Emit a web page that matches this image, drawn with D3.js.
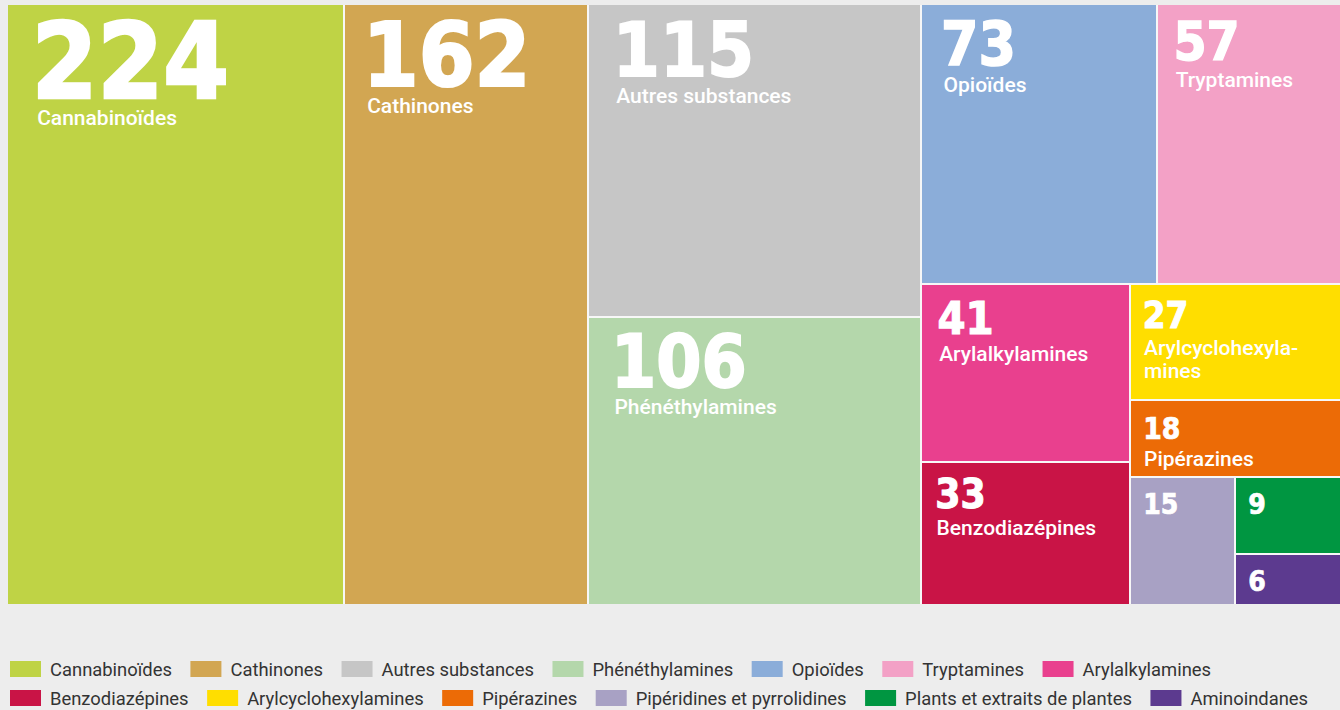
<!DOCTYPE html>
<html lang="fr">
<head>
<meta charset="utf-8">
<script src="https://cdn.jsdelivr.net/npm/d3@7"></script>
<style>
  html, body { margin: 0; padding: 0; background: #ededed; }
  svg { display: block; }
</style>
</head>
<body>
<svg id="chart" width="1340" height="710"></svg>
<script>
// Substance families (the soft hyphen marks where a long name may break in a tile)
const categories = [
  "Cannabinoïdes", "Cathinones", "Autres substances", "Phénéthylamines",
  "Opioïdes", "Tryptamines", "Arylalkylamines", "Benzodiazépines",
  "Arylcyclohexyla\u00ADmines", "Pipérazines", "Pipéridines et pyrrolidines",
  "Plants et extraits de plantes", "Aminoindanes"
];
const values = [224, 162, 115, 106, 73, 57, 41, 33, 27, 18, 15, 9, 6];
const colors = [
  "#bfd345", "#d2a652", "#c6c6c6", "#b4d7ab",
  "#8badd9", "#f3a1c6", "#e9408e", "#c91446",
  "#ffde00", "#ec6b06", "#a8a1c4", "#009641", "#5c3a8f"
];
// Grouping of the tiles: each path lists the nested blocks a tile belongs to,
// blocks alternate between columns and rows (slice-and-dice)
const nesting = [
  "", "", "a", "a",
  "b/a", "b/a", "b/b/a", "b/b/a",
  "b/b/b", "b/b/b", "b/b/b/c", "b/b/b/c/d", "b/b/b/c/d"
];
const legendRows = [7, 6];

const W = 1340, H = 710;
const svg = d3.select("#chart");
const plain = s => s.replace(/\u00AD/g, "");

// Build the nested tree from the grouping paths, keeping the data order
const tree = { name: "root", children: [] };
categories.forEach((c, i) => {
  let node = tree;
  nesting[i].split("/").filter(Boolean).forEach(seg => {
    let g = node.children.find(ch => ch.group === seg);
    if (!g) { g = { group: seg, children: [] }; node.children.push(g); }
    node = g;
  });
  node.children.push({ name: c, value: values[i], color: colors[i], index: i });
});

const area = { x: 8, y: 5, w: 1332, h: 599 };
const root = d3.hierarchy(tree).sum(d => d.value || 0);
d3.treemap()
  .tile(d3.treemapSliceDice)
  .size([area.w, area.h])
  .paddingInner(2)
  .round(true)(root);

svg.append("rect").attr("width", W).attr("height", H).attr("fill", "#ededed");
const plot = svg.append("g").attr("transform", `translate(${area.x},${area.y})`);
plot.append("rect")
  .attr("width", area.w).attr("height", area.h)
  .attr("fill", "#f7f7f7");

const leaves = root.leaves();
const numSize = d3.scaleSqrt().domain([0, 224]).range([0, 105]);

const numFont = "'DejaVu Sans Condensed', 'DejaVu Sans', sans-serif";
const labFont = "Roboto, 'Liberation Sans', sans-serif";
const labSize = 21;

// Off-screen text used to measure label widths
const probe = svg.append("text")
  .attr("x", -1000).attr("y", -1000)
  .attr("font-family", labFont).attr("font-weight", 500).attr("font-size", labSize);
const measure = s => { probe.text(s); return probe.node().getComputedTextLength(); };

function labelLines(name, maxW) {
  const full = plain(name);
  if (measure(full) <= maxW) return [full];
  const parts = name.split("\u00AD");
  if (parts.length === 2 && measure(parts[0] + "-") <= maxW && measure(parts[1]) <= maxW)
    return [parts[0] + "-", parts[1]];
  return null;
}

const tiles = plot.append("g").selectAll("g")
  .data(leaves)
  .join("g")
  .attr("transform", d => `translate(${d.x0},${d.y0})`);

tiles.append("rect")
  .attr("width", d => d.x1 - d.x0)
  .attr("height", d => d.y1 - d.y0)
  .attr("fill", d => d.data.color);

tiles.each(function (d) {
  const g = d3.select(this);
  const w = d.x1 - d.x0, h = d.y1 - d.y0;
  const pad = Math.max(13, 0.075 * Math.min(w, h) + 4);
  const fs = Math.max(28, numSize(d.data.value));
  const base = 16 + 0.729 * fs;
  g.append("text")
    .attr("x", pad - 0.06 * fs + 1).attr("y", base)
    .attr("font-family", numFont)
    .attr("font-stretch", "condensed")
    .attr("font-weight", 700)
    .attr("font-size", fs)
    .attr("fill", "#fff")
    .attr("stroke", "#fff")
    .attr("stroke-width", 0.025 * fs)
    .text(d.data.value);
  const lines = labelLines(d.data.name, w - 2 * pad);
  if (lines && base + 27 + 23 * (lines.length - 1) + 6 <= h) {
    lines.forEach((line, k) => {
      g.append("text")
        .attr("x", pad).attr("y", base + 27 + 23 * k)
        .attr("font-family", labFont)
        .attr("font-weight", 500)
        .attr("font-size", labSize)
        .attr("fill", "#fff")
        .text(line);
    });
  }
});
probe.remove();

// Legend, two rows
const legend = svg.append("g").attr("font-family", "Roboto, 'Liberation Sans', sans-serif")
  .attr("font-size", 18.4).attr("fill", "#333");
let idx = 0;
legendRows.forEach((count, r) => {
  let x = 10;
  const y = 661 + 29 * r;
  for (let k = 0; k < count; k++, idx++) {
    legend.append("rect")
      .attr("x", x).attr("y", y).attr("width", 31).attr("height", 16)
      .attr("fill", colors[idx]);
    const t = legend.append("text")
      .attr("x", x + 40).attr("y", y + 15)
      .text(plain(categories[idx]));
    x += 40 + t.node().getComputedTextLength() + 18.5;
  }
});
</script>
</body>
</html>
